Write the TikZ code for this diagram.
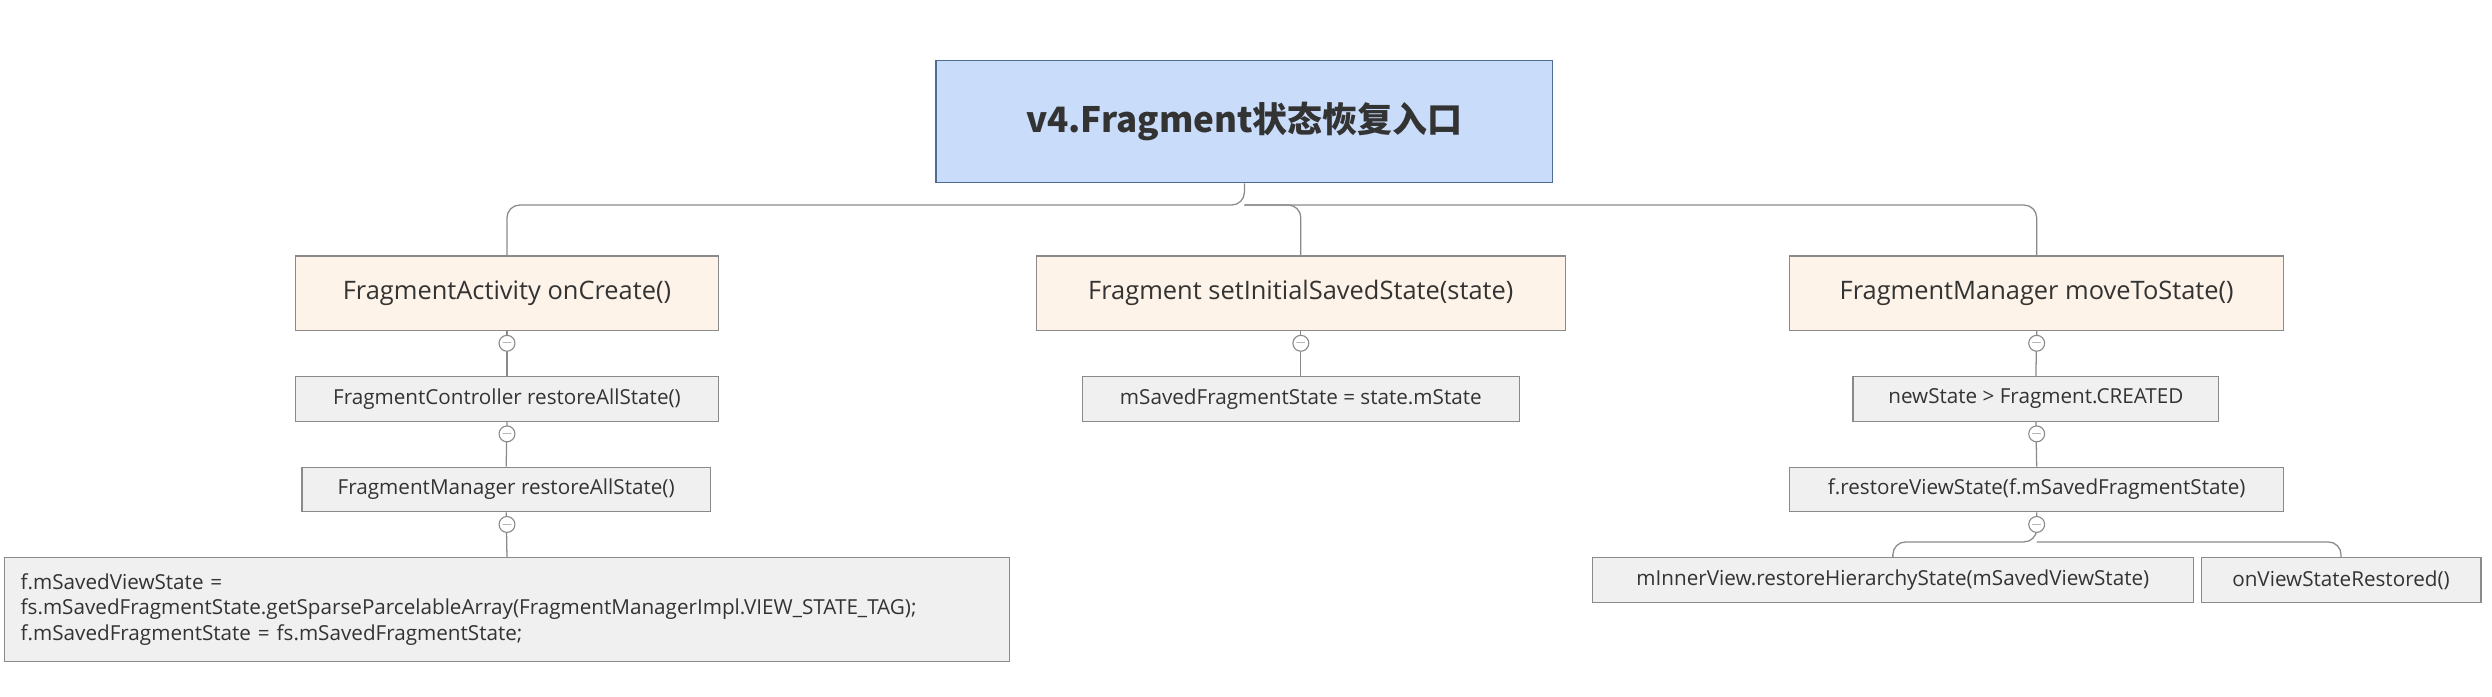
\documentclass[tikz,border=0pt]{standalone}
\usepackage{fontspec}
\setmainfont{Open Sans}
\newfontfamily\cjk{Noto Sans CJK SC}
\begin{document}
\begin{tikzpicture}[x=1pt,y=-1pt]
\definecolor{titlefill}{HTML}{C9DCF9}
\definecolor{titleline}{HTML}{4F6C93}
\definecolor{l1fill}{HTML}{FDF3E8}
\definecolor{l2fill}{HTML}{F0F0F0}
\definecolor{edge}{HTML}{8A8A8A}
\definecolor{txt}{HTML}{333333}
\tikzset{
 box/.style={draw=edge,line width=0.8pt,text=txt,inner sep=0pt},
 titlebox/.style={box,fill=titlefill,draw=titleline,font=\cjk\bfseries\fontsize{22}{26}\selectfont},
 lone/.style={box,fill=l1fill,font=\fontsize{16}{19}\selectfont},
 ltwo/.style={box,fill=l2fill,font=\fontsize{13}{16}\selectfont},
 conn/.style={draw=edge,line width=0.8pt,rounded corners=8pt},
 knob/.style={circle,draw=edge,fill=white,line width=0.7pt,minimum size=10pt,inner sep=0pt,font=\fontsize{9}{9}\selectfont,text=edge}
}
\useasboundingbox (0,0) rectangle (1568,438);
\node[titlebox,minimum width=388pt,minimum height=77pt] (t) at (783,76.5) {v4.Fragment状态恢复入口};
\node[lone,minimum width=266pt,minimum height=47pt] (a) at (319,184.5) {FragmentActivity onCreate()};
\node[lone,minimum width=333pt,minimum height=47pt] (b) at (818.5,184.5) {Fragment setInitialSavedState(state)};
\node[lone,minimum width=311pt,minimum height=47pt] (c) at (1281.5,184.5) {FragmentManager moveToState()};
\node[ltwo,minimum width=266pt,minimum height=28pt] (a1) at (319,251) {FragmentController restoreAllState()};
\node[ltwo,minimum width=257pt,minimum height=28pt] (a2) at (318.5,308) {FragmentManager restoreAllState()};
\node[ltwo,minimum width=632pt,minimum height=65pt,align=left,text width=612pt] (a3) at (319,383.5) {f.mSavedViewState =\\fs.mSavedFragmentState.getSparseParcelableArray(FragmentManagerImpl.VIEW\_STATE\_TAG);\\f.mSavedFragmentState = fs.mSavedFragmentState;};
\node[ltwo,minimum width=275pt,minimum height=28pt] (b1) at (818.5,251) {mSavedFragmentState = state.mState};
\node[ltwo,minimum width=230pt,minimum height=28pt] (c1) at (1281,251) {newState > Fragment.CREATED};
\node[ltwo,minimum width=311pt,minimum height=28pt] (c2) at (1281.5,308) {f.restoreViewState(f.mSavedFragmentState)};
\node[ltwo,minimum width=378pt,minimum height=28pt] (c3) at (1191,365) {mInnerView.restoreHierarchyState(mSavedViewState)};
\node[ltwo,minimum width=176pt,minimum height=28pt] (c4) at (1473,365) {onViewStateRestored()};
\coordinate (tb) at (783,129);
\draw[conn] (t.south) -- (tb) -| (a.north);
\draw[conn] (tb) -| (b.north);
\draw[conn] (tb) -| (c.north);
\draw[conn] (a.south) -- (a1.north);
\draw[conn] (a1.south) -- (a2.north);
\draw[conn] (a2.south) -- (a3.north);
\draw[conn] (b.south) -- (b1.north);
\draw[conn] (c.south) -- (c1.north);
\draw[conn] (c1.south) -- (c2.north);
\coordinate (cs) at (1281.5,341);
\draw[conn] (c2.south) -- (cs) -| (c3.north);
\draw[conn] (cs) -| (c4.north);
\node[knob] (k1) at (319,216) {$-$};
\node[knob] (k2) at (319,273) {$-$};
\node[knob] (k3) at (319,330) {$-$};
\node[knob] (k4) at (818.5,216) {$-$};
\node[knob] (k5) at (1281.5,216) {$-$};
\node[knob] (k6) at (1281.5,273) {$-$};
\node[knob] (k7) at (1281.5,330) {$-$};
\end{tikzpicture}
\end{document}
